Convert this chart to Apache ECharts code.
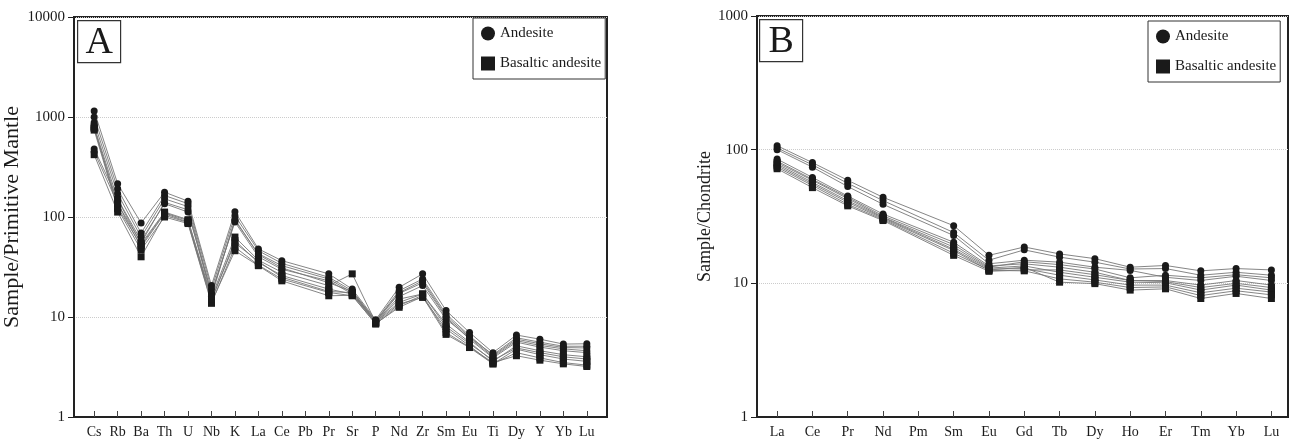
<!DOCTYPE html>
<html>
<head>
<meta charset="utf-8">
<script src="https://cdn.jsdelivr.net/npm/echarts@6/dist/echarts.min.js"></script>
<style>
  html, body { margin: 0; padding: 0; background: #fff; }
  #chart { width: 1291px; height: 441px; }
</style>
</head>
<body>
<div id="chart"></div>
<script>
// spider diagram elements
const pmElements = ["Cs", "Rb", "Ba", "Th", "U", "Nb", "K", "La", "Ce", "Pb", "Pr", "Sr", "P", "Nd", "Zr", "Sm", "Eu", "Ti", "Dy", "Y", "Yb", "Lu"];
const reeElements = ["La", "Ce", "Pr", "Nd", "Pm", "Sm", "Eu", "Gd", "Tb", "Dy", "Ho", "Er", "Tm", "Yb", "Lu"];

// primitive-mantle normalised (Pb not reported)
const pmAndesite = [
  [1150, 215, 87, 177, 144, 20.6, 113, 48, 36.6, null, 27, 19, 9.4, 19.8, 27, 11.6, 7.0, 4.4, 6.6, 6.0, 5.36, 5.4],
  [1000, 192, 69, 164, 136, 19, 103, 46, 34.4, null, 25, 18.3, 9.2, 18.3, 24, 10.7, 6.5, 4.1, 6.0, 5.4, 4.95, 4.9],
  [880, 171, 63, 152, 127, 17, 92, 43, 32.6, null, 24, 17.6, 9.0, 17.2, 22, 9.9, 6.0, 3.9, 5.6, 5.0, 4.6, 4.4],
  [480, 152, 58, 136, 112, 17.5, 89, 40, 30, null, 23, 17, 8.9, 16, 20.6, 9.5, 6.2, 4.0, 5.8, 5.2, 4.8, 4.6],
  [450, 136, 55, 140, 118, 16, 95, 42, 31, null, 22, 18, 9.1, 17.5, 23, 10.2, 6.3, 4.2, 6.2, 5.6, 5.1, 5.1],
];
const pmBasaltic = [
  [800, 150, 54, 112, 94, 15.7, 63, 37, 28, null, 20.6, 27, 8.8, 15.1, 17, 8.5, 5.6, 3.6, 5.15, 4.6, 4.2, 4.0],
  [770, 136, 50, 108, 89, 14.6, 58, 35, 26, null, 19, 17, 8.7, 13.5, 15.7, 7.6, 5.15, 3.4, 4.77, 4.2, 3.8, 3.6],
  [740, 121, 47, 100, 86, 13.7, 50, 33, 24, null, 17.6, 16.3, 8.6, 12.5, 16, 6.7, 4.95, 3.4, 4.4, 3.9, 3.5, 3.3],
  [420, 112, 40, 104, 88, 14, 46, 32.6, 23, null, 16.3, 16.5, 8.5, 13, 16.5, 7.0, 5.0, 3.5, 4.1, 3.7, 3.4, 3.2],
  [780, 125, 52, 110, 92, 15, 55, 36, 25, null, 18, 17.5, 8.9, 14, 17, 8.0, 5.4, 3.7, 4.9, 4.4, 4.0, 3.8],
];

// chondrite normalised (Pm not reported)
const reeAndesite = [
  [107, 80, 59, 44, null, 27, 16.2, 18.7, 16.6, 15.3, 13.2, 13.6, 12.4, 12.9, 12.6],
  [103, 77, 56, 41.6, null, 24, 14.9, 17.8, 15.7, 14.4, 12.8, 12.9, 11.5, 12.1, 11.5],
  [100, 74, 53, 39, null, 22.8, 14, 14.9, 14.4, 13.2, 12.5, 11.1, 10.5, 11.3, 10.5],
  [85, 62, 45, 33, null, 20.3, 13.5, 14, 13.2, 12.1, 10.5, 10.5, 9.7, 10.5, 9.7],
  [82, 60, 44, 32, null, 19.5, 13.2, 14.5, 13.8, 12.8, 11, 11.5, 11, 11.6, 11.0],
];
const reeBasaltic = [
  [80, 59, 43, 31.3, null, 18.7, 13, 13.5, 12.1, 11.1, 10.2, 10.1, 8.9, 9.7, 8.9],
  [78, 57, 41.5, 31, null, 18, 12.8, 12.9, 11.5, 10.6, 9.7, 9.7, 8.5, 9.2, 8.6],
  [76, 55.5, 40.4, 30.5, null, 17.6, 12.5, 12.4, 10.8, 10.2, 9.3, 9.4, 8.1, 8.8, 8.2],
  [74, 54, 39, 30, null, 16.8, 12.6, 13.2, 10.2, 9.95, 8.9, 9.1, 7.7, 8.4, 7.7],
  [72, 52, 38, 29.5, null, 16.2, 12.3, 12.6, 12.6, 11.6, 10.5, 10.3, 9.3, 10, 9.3],
];

const yTicksA = [1, 10, 100, 1000, 10000];
const yTicksB = [1, 10, 100, 1000];

const FONT = "Liberation Serif";
const INK = "#1a1a1a";

const chart = echarts.init(document.getElementById("chart"));

function pairs(values) {
  const out = [];
  values.forEach((v, i) => { if (v != null) out.push([i, v]); });
  return out;
}

function makeSeries(rows, name, symbol, axis) {
  return rows.map((row) => ({
    name,
    type: "line",
    xAxisIndex: axis,
    yAxisIndex: axis,
    symbol,
    symbolSize: 7,
    showSymbol: true,
    animation: false,
    lineStyle: { color: "#777", width: 0.9 },
    itemStyle: { color: INK },
    emphasis: { disabled: true },
    data: pairs(row),
  }));
}

function xAxis(grid, names, min, max) {
  const idx = names.map((_, i) => i);
  return {
    type: "value",
    gridIndex: grid,
    min,
    max,
    axisLine: { show: true, onZero: false, lineStyle: { color: "#222", width: 2 } },
    axisTick: { show: true, inside: true, length: 6, customValues: idx, lineStyle: { color: "#444" } },
    axisLabel: {
      customValues: idx,
      formatter: (v) => names[Math.round(v)],
      fontFamily: FONT,
      fontSize: 14,
      color: INK,
      margin: 8,
    },
    splitLine: { show: false },
  };
}

function yAxis(grid, name, max, ticks, gap, nameSize) {
  return {
    type: "log",
    logBase: 10,
    gridIndex: grid,
    min: 1,
    max,
    name,
    nameLocation: "middle",
    nameGap: gap,
    nameTextStyle: { fontFamily: FONT, fontSize: nameSize, color: INK },
    axisLine: { show: true, onZero: false, lineStyle: { color: "#222", width: 2 } },
    axisTick: { show: true, length: 6, customValues: ticks, lineStyle: { color: "#222" } },
    axisLabel: {
      customValues: ticks,
      formatter: (v) => String(Math.round(v)),
      fontFamily: FONT,
      fontSize: 15,
      color: INK,
      margin: 9,
    },
    minorTick: { show: false },
    splitLine: { show: true, lineStyle: { color: "#ccc", type: "dotted", width: 1 } },
  };
}

function legend(left, top) {
  return {
    orient: "vertical",
    left,
    top,
    data: [
      { name: "Andesite", icon: "circle" },
      { name: "Basaltic andesite", icon: "rect" },
    ],
    selectedMode: false,
    itemWidth: 14,
    itemHeight: 14,
    itemGap: 15,
    padding: [8, 4, 8, 8],
    borderColor: "#333",
    borderWidth: 1,
    backgroundColor: "#fff",
    itemStyle: { color: INK },
    textStyle: { fontFamily: FONT, fontSize: 15, color: INK },
  };
}

function panelLabel(x, y, letter) {
  return {
    type: "group",
    left: x,
    top: y,
    z: 100,
    children: [
      { type: "rect", shape: { x: 0, y: 0, width: 43, height: 42 }, style: { fill: "#fff", stroke: "#333", lineWidth: 1.2 } },
      { type: "text", x: 21.5, y: 22, style: { text: letter, fontFamily: FONT, fontSize: 38, fill: INK, align: "center", verticalAlign: "middle" } },
    ],
  };
}

chart.setOption({
  backgroundColor: "#fff",
  animation: false,
  grid: [
    { left: 74, top: 17, right: 684, bottom: 24, show: true, borderColor: "#222", borderWidth: 2, backgroundColor: "transparent" },
    { left: 757, top: 16, right: 3, bottom: 24, show: true, borderColor: "#222", borderWidth: 2, backgroundColor: "transparent" },
  ],
  xAxis: [
    xAxis(0, pmElements, -0.86, 21.86),
    xAxis(1, reeElements, -0.57, 14.47),
  ],
  yAxis: [
    yAxis(0, "Sample/Primitive Mantle", 10000, yTicksA, 48, 22),
    yAxis(1, "Sample/Chondrite", 1000, yTicksB, 41, 18),
  ],
  legend: [legend(473, 18), legend(1148, 21)],
  graphic: [panelLabel(77, 20, "A"), panelLabel(759, 19, "B")],
  series: [
    ...makeSeries(pmBasaltic, "Basaltic andesite", "rect", 0),
    ...makeSeries(pmAndesite, "Andesite", "circle", 0),
    ...makeSeries(reeBasaltic, "Basaltic andesite", "rect", 1),
    ...makeSeries(reeAndesite, "Andesite", "circle", 1),
  ],
});
</script>
</body>
</html>
